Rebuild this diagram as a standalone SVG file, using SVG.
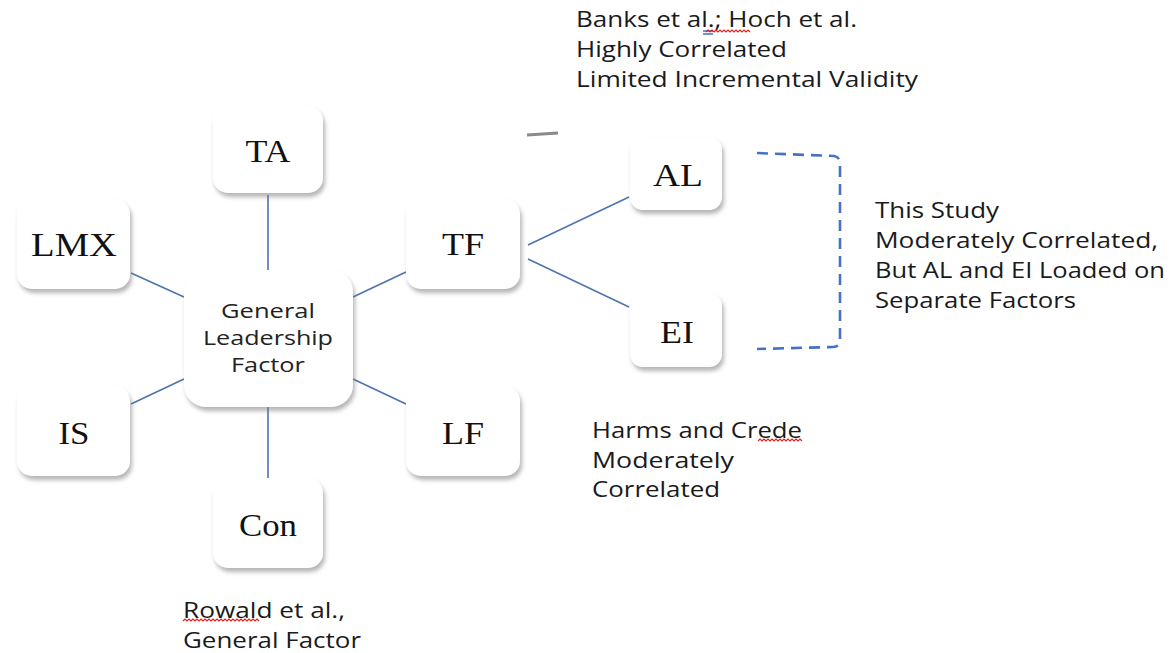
<svg xmlns="http://www.w3.org/2000/svg" width="1170" height="653" viewBox="0 0 1170 653">
<defs>
<filter id="sh" x="-20%" y="-20%" width="150%" height="150%">
<feDropShadow dx="2" dy="4" stdDeviation="2.2" flood-color="#7a7a7a" flood-opacity="0.55"/>
</filter>
<style>
.box{fill:#ffffff;filter:url(#sh)}
.lbl{font-family:"Liberation Serif","Times New Roman",serif;font-size:32px;fill:#111;text-anchor:middle}
.ctr{font-family:"Open Sans","Noto Sans",sans-serif;font-size:20px;fill:#222;text-anchor:middle}
.note{font-family:"Open Sans","Noto Sans",sans-serif;font-size:21.5px;fill:#1a1a1a}
.con{stroke:#4d74ad;stroke-width:1.6;fill:none}
.dash{stroke:#4472c4;stroke-width:2.6;fill:none;stroke-dasharray:11 7}
.sq{stroke:#e02020;stroke-width:1.2;fill:none}
</style>
</defs>
<rect width="1170" height="653" fill="#ffffff"/>
<g id="connectors">
<line class="con" x1="268" y1="195" x2="268" y2="271"/>
<line class="con" x1="131" y1="273" x2="184" y2="297"/>
<line class="con" x1="406" y1="272" x2="353" y2="297"/>
<line class="con" x1="131" y1="404" x2="184" y2="379"/>
<line class="con" x1="406" y1="404" x2="353" y2="379"/>
<line class="con" x1="268" y1="407" x2="268" y2="478"/>
<line class="con" x1="528" y1="245" x2="629" y2="197"/>
<line class="con" x1="528" y1="259" x2="629" y2="307"/>
<path class="dash" d="M757 153 L834 156 Q840 157 840 164 L840 340 Q840 347 833 347 L757 349"/>
</g>
<path d="M527 135 L558 133" stroke="#8a8a8a" stroke-width="3" fill="none"/>
<g id="TA"><rect class="box" x="213" y="106" width="110" height="87" rx="15"/><text class="lbl" x="268" y="162" textLength="45" lengthAdjust="spacingAndGlyphs">TA</text></g>
<g id="LMX"><rect class="box" x="17" y="199" width="113" height="90" rx="15"/><text class="lbl" x="74" y="256" style="font-size:34px" textLength="86" lengthAdjust="spacingAndGlyphs">LMX</text></g>
<g id="TF"><rect class="box" x="406" y="199" width="114" height="90" rx="15"/><text class="lbl" x="463" y="255" textLength="42" lengthAdjust="spacingAndGlyphs">TF</text></g>
<g id="GLF"><rect class="box" x="184" y="270" width="169" height="137" rx="22"/>
<text class="ctr" x="268" y="318" textLength="94" lengthAdjust="spacingAndGlyphs">General</text><text class="ctr" x="268" y="345" textLength="130" lengthAdjust="spacingAndGlyphs">Leadership</text><text class="ctr" x="268" y="372" textLength="74" lengthAdjust="spacingAndGlyphs">Factor</text></g>
<g id="IS"><rect class="box" x="17" y="386" width="113" height="90" rx="15"/><text class="lbl" x="74" y="444" textLength="31" lengthAdjust="spacingAndGlyphs">IS</text></g>
<g id="LF"><rect class="box" x="406" y="386" width="114" height="90" rx="15"/><text class="lbl" x="463" y="444" textLength="42" lengthAdjust="spacingAndGlyphs">LF</text></g>
<g id="Con"><rect class="box" x="213" y="478" width="110" height="90" rx="15"/><text class="lbl" x="268" y="536" textLength="58" lengthAdjust="spacingAndGlyphs">Con</text></g>
<g id="AL"><rect class="box" x="630" y="137" width="92" height="73" rx="13"/><text class="lbl" x="678" y="186" textLength="50" lengthAdjust="spacingAndGlyphs">AL</text></g>
<g id="EI"><rect class="box" x="630" y="293" width="92" height="74" rx="13"/><text class="lbl" x="677" y="343" textLength="34" lengthAdjust="spacingAndGlyphs">EI</text></g>
<g id="notes">
<text class="note" x="576" y="27" textLength="281" lengthAdjust="spacingAndGlyphs">Banks et al.; Hoch et al.</text>
<text class="note" x="576" y="57" textLength="211" lengthAdjust="spacingAndGlyphs">Highly Correlated</text>
<text class="note" x="576" y="87" textLength="342" lengthAdjust="spacingAndGlyphs">Limited Incremental Validity</text>
<text class="note" x="875" y="218" textLength="124" lengthAdjust="spacingAndGlyphs">This Study</text>
<text class="note" x="875" y="248" textLength="283" lengthAdjust="spacingAndGlyphs">Moderately Correlated,</text>
<text class="note" x="875" y="278" textLength="290" lengthAdjust="spacingAndGlyphs">But AL and EI Loaded on</text>
<text class="note" x="875" y="308" textLength="201" lengthAdjust="spacingAndGlyphs">Separate Factors</text>
<text class="note" x="592" y="438" textLength="210" lengthAdjust="spacingAndGlyphs">Harms and Crede</text>
<text class="note" x="592" y="468" textLength="142" lengthAdjust="spacingAndGlyphs">Moderately</text>
<text class="note" x="592" y="497" textLength="128" lengthAdjust="spacingAndGlyphs">Correlated</text>
<text class="note" x="183" y="618" textLength="162" lengthAdjust="spacingAndGlyphs">Rowald et al.,</text>
<text class="note" x="183" y="648" textLength="178" lengthAdjust="spacingAndGlyphs">General Factor</text>
</g>
<g id="marks">
<path d="M703 31 L713 31 M703 34 L713 34" stroke="#4472c4" stroke-width="1.3"/>
<path class="sq" d="M706 32 l2 -2 l2 2 l2 -2 l2 2 l2 -2 l2 2 l2 -2 l2 2 l2 -2 l2 2 l2 -2 l2 2 l2 -2 l2 2 l2 -2 l2 2 l2 -2 l2 2 l2 -2 l2 2 l2 -2 l2 2"/>
<path class="sq" d="M758 441 l2 -2 l2 2 l2 -2 l2 2 l2 -2 l2 2 l2 -2 l2 2 l2 -2 l2 2 l2 -2 l2 2 l2 -2 l2 2 l2 -2 l2 2 l2 -2 l2 2 l2 -2 l2 2 l2 -2 l2 2"/>
<path class="sq" d="M183 621 l2 -2 l2 2 l2 -2 l2 2 l2 -2 l2 2 l2 -2 l2 2 l2 -2 l2 2 l2 -2 l2 2 l2 -2 l2 2 l2 -2 l2 2 l2 -2 l2 2 l2 -2 l2 2 l2 -2 l2 2 l2 -2 l2 2 l2 -2 l2 2 l2 -2 l2 2 l2 -2 l2 2 l2 -2 l2 2 l2 -2 l2 2 l2 -2 l2 2 l2 -2 l2 2"/>
</g>
</svg>
